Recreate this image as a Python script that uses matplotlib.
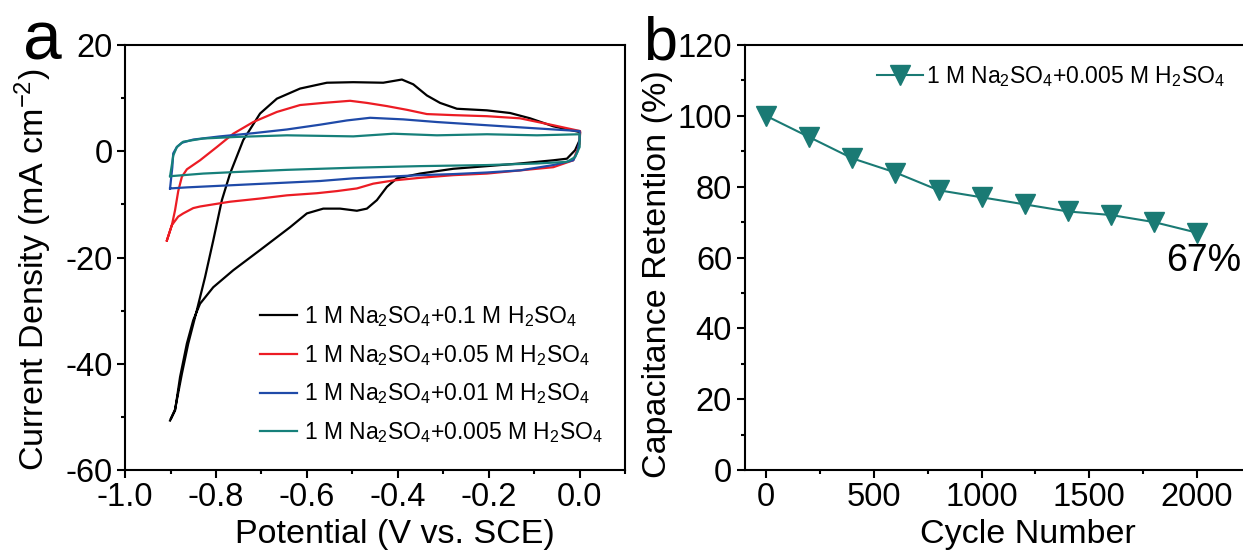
"""CV curves in Na2SO4/H2SO4 electrolytes and cycling stability."""

import matplotlib

matplotlib.use("Agg")
import matplotlib.pyplot as plt
from matplotlib.ticker import MultipleLocator

plt.rcParams["font.family"] = ["Liberation Sans", "DejaVu Sans"]
plt.rcParams["mathtext.fontset"] = "custom"
plt.rcParams["mathtext.rm"] = "Liberation Sans"
plt.rcParams["mathtext.it"] = "Liberation Sans"
plt.rcParams["mathtext.default"] = "regular"
plt.rcParams["axes.unicode_minus"] = False

# Panel a: cyclic voltammograms (forward sweep then return sweep)
v_01 = [-0.899, -0.890, -0.875, -0.861, -0.842, -0.824, -0.806, -0.787, -0.769, -0.740,
        -0.703, -0.666, -0.615, -0.556, -0.498, -0.432, -0.391, -0.366, -0.336, -0.307,
        -0.270, -0.204, -0.153, -0.109, -0.058, 0.001,
        0.000, -0.010, -0.028, -0.058, -0.131, -0.204, -0.278, -0.351, -0.402, -0.424,
        -0.446, -0.468, -0.490, -0.527, -0.564, -0.600, -0.637, -0.703, -0.762, -0.806,
        -0.835, -0.850, -0.864, -0.879, -0.890, -0.901]
j_01 = [-50.3, -48.6, -41.9, -36.2, -29.9, -23.7, -16.8, -9.2, -4.2, 2.1,
        7.1, 9.9, 11.8, 12.9, 13.0, 12.9, 13.5, 12.6, 10.5, 9.1,
        8.0, 7.7, 7.2, 6.2, 4.7, 3.6,
        2.1, 0.2, -1.4, -1.7, -2.3, -2.8, -3.3, -4.2, -5.1, -6.7,
        -9.2, -10.8, -11.2, -10.8, -10.8, -11.7, -14.3, -18.6, -22.4, -25.6,
        -28.7, -31.8, -36.2, -42.5, -48.8, -50.7]

v_005 = [-0.908, -0.897, -0.890, -0.883, -0.875, -0.864, -0.835, -0.798, -0.762, -0.718,
         -0.666, -0.615, -0.564, -0.505, -0.468, -0.424, -0.380, -0.336, -0.278, -0.204,
         -0.131, -0.058, 0.001,
         0.000, -0.014, -0.058, -0.131, -0.204, -0.278, -0.351, -0.410, -0.454, -0.490,
         -0.534, -0.578, -0.644, -0.703, -0.769, -0.806, -0.835, -0.850, -0.872, -0.883,
         -0.897, -0.908]
j_005 = [-16.8, -13.9, -11.1, -7.5, -4.8, -3.4, -1.7, 0.8, 3.3, 5.5,
         7.4, 8.7, 9.1, 9.5, 9.1, 8.5, 7.8, 7.0, 6.8, 6.6,
         6.2, 4.9, 3.8,
         1.4, -1.7, -3.0, -3.6, -4.2, -4.5, -5.0, -5.5, -6.1, -7.0,
         -7.5, -7.9, -8.3, -8.9, -9.5, -10.0, -10.4, -10.7, -11.7, -12.3,
         -13.9, -16.8]

v_001 = [-0.901, -0.896, -0.894, -0.886, -0.875, -0.850, -0.791, -0.718, -0.644, -0.571,
         -0.512, -0.461, -0.388, -0.314, -0.241, -0.168, -0.094, 0.000,
         0.000, -0.005, -0.014, -0.058, -0.131, -0.204, -0.278, -0.351, -0.424, -0.498,
         -0.571, -0.644, -0.718, -0.791, -0.864, -0.901]
j_001 = [-7.0, -3.0, -0.4, 0.8, 1.6, 2.2, 2.8, 3.4, 4.1, 5.0,
         5.8, 6.3, 6.0, 5.5, 5.1, 4.7, 4.3, 3.8,
         2.1, -0.1, -1.7, -2.6, -3.6, -4.0, -4.3, -4.5, -4.8, -5.1,
         -5.6, -5.9, -6.2, -6.5, -6.8, -7.0]

v_0005 = [-0.901, -0.896, -0.894, -0.886, -0.872, -0.828, -0.754, -0.644, -0.498, -0.410,
          -0.314, -0.204, -0.094, 0.000,
          0.000, -0.010, -0.028, -0.094, -0.204, -0.351, -0.498, -0.644, -0.754, -0.828,
          -0.901]
j_0005 = [-4.7, -2.0, -0.8, 0.8, 1.8, 2.4, 2.7, 3.0, 2.8, 3.3,
          3.0, 3.2, 3.0, 3.2,
          0.8, -1.1, -2.0, -2.3, -2.6, -2.8, -3.1, -3.5, -3.9, -4.2,
          -4.7]

cv_labels = [
    "1 M Na$_2$SO$_4$+0.1 M H$_2$SO$_4$",
    "1 M Na$_2$SO$_4$+0.05 M H$_2$SO$_4$",
    "1 M Na$_2$SO$_4$+0.01 M H$_2$SO$_4$",
    "1 M Na$_2$SO$_4$+0.005 M H$_2$SO$_4$",
]
cv_colors = ["black", "#ec1c24", "#1f4aa8", "#16807a"]

# Panel b: capacitance retention
cycles = [0, 200, 400, 600, 800, 1000, 1200, 1400, 1600, 1800, 2000]
retention = [100, 94, 88, 84, 79, 77, 75, 73, 72, 70, 67]
retention_label = "1 M Na$_2$SO$_4$+0.005 M H$_2$SO$_4$"
teal = "#1a7a74"

fig = plt.figure(figsize=(12.43, 5.57), dpi=100)
ax1 = fig.add_axes([0.1006, 0.1562, 0.4023, 0.7630])
ax2 = fig.add_axes([0.5990, 0.1562, 0.4161, 0.7630])

tick_fs = 23.5
label_fs = 24.5
legend_fs = 16.5
for ax in (ax1, ax2):
    for spine in ax.spines.values():
        spine.set_linewidth(1.5)
    ax.tick_params(which="both", direction="out", width=1.5, labelsize=tick_fs,
                   top=False, right=False)
    ax.tick_params(which="major", length=6, pad=3)
    ax.tick_params(which="minor", length=3)

# CV curves
cv_data = [(v_01, j_01), (v_005, j_005), (v_001, j_001), (v_0005, j_0005)]
for (v, j), color, label in zip(cv_data, cv_colors, cv_labels):
    ax1.plot(v, j, color=color, lw=1.6, label=label)

ax1.set_xlim(-1.0, 0.1)
ax1.set_ylim(-60, 20)
ax1.xaxis.set_major_locator(MultipleLocator(0.2))
ax1.xaxis.set_minor_locator(MultipleLocator(0.1))
ax1.yaxis.set_major_locator(MultipleLocator(20))
ax1.yaxis.set_minor_locator(MultipleLocator(10))
ax1.xaxis.set_major_formatter(lambda x, pos: f"{x:.1f}".replace("-0.0", "0.0"))
ax1.set_xlabel("Potential (V vs. SCE)", fontsize=label_fs)
ax1.set_ylabel("Current Density (mA cm$^{-2}$)", fontsize=label_fs)
ax1.xaxis.set_label_coords(0.54, -0.115)
ax1.yaxis.set_label_coords(-0.142, 0.47)
ax1.legend(loc="upper left", bbox_to_anchor=(0.27, 0.39), frameon=False,
           fontsize=legend_fs, handlelength=1.6, handletextpad=0.3, labelspacing=0.6,
           borderpad=0, borderaxespad=0)

# Retention vs cycle number
ax2.plot(cycles, retention, color=teal, lw=1.5, marker="v", ms=15,
         markeredgecolor=teal, markerfacecolor=teal, label=retention_label)
ax2.text(cycles[-1] + 30, retention[-1] - 8, f"{retention[-1]}%", fontsize=27,
         ha="center", va="center")
ax2.set_xlim(-100, 2300)
ax2.set_ylim(0, 120)
ax2.xaxis.set_major_locator(MultipleLocator(500))
ax2.xaxis.set_minor_locator(MultipleLocator(250))
ax2.yaxis.set_major_locator(MultipleLocator(20))
ax2.yaxis.set_minor_locator(MultipleLocator(10))
ax2.set_xlabel("Cycle Number", fontsize=label_fs)
ax2.set_ylabel("Capacitance Retention (%)", fontsize=label_fs)
ax2.xaxis.set_label_coords(0.548, -0.115)
ax2.yaxis.set_label_coords(-0.138, 0.46)
ax2.legend(loc="upper left", bbox_to_anchor=(0.256, 0.955), frameon=False,
           fontsize=legend_fs, handlelength=2.0, handletextpad=0.15, borderpad=0,
           borderaxespad=0)

fig.text(42 / 1243, 1 - 60 / 557, "a", fontsize=50, ha="center", va="baseline")
fig.text(660 / 1243, 1 - 60 / 557, "b", fontsize=44, ha="center", va="baseline")

fig.savefig("out.png", dpi=100)
